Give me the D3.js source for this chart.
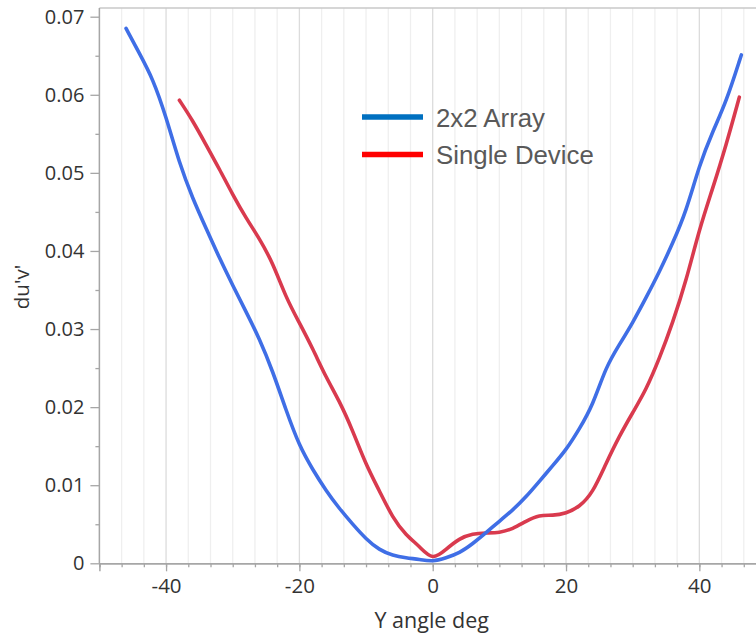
<!DOCTYPE html>
<html><head><meta charset="utf-8">
<script src="https://cdn.jsdelivr.net/npm/d3@7"></script>
<style>body{margin:0;background:#fff;overflow:hidden}svg{display:block}</style>
</head><body><svg id="c" width="756" height="637"></svg>
<script>
const anglesArray = [-46,-44,-42,-40,-38,-36,-34,-32,-30,-28,-26,-24,-22,-20,-18,-16,-14,-12,-10,-8,-6,-4,-2,0,2,4,6,8,10,12,14,16,18,20,22,24,26,28,30,32,34,36,38,40,42,44,46.3];
const arrayValues = [0.0685,0.0653,0.0621,0.0572,0.0512,0.0467,0.0429,0.0391,0.0356,0.0322,0.0288,0.0246,0.0196,0.0150,0.0120,0.0093,0.0070,0.0050,0.0031,0.0017,0.0010,0.0007,0.0005,0.0002,0.0007,0.0013,0.0025,0.0039,0.0054,0.0068,0.0085,0.0105,0.0125,0.0145,0.0172,0.0202,0.0252,0.0280,0.0308,0.0340,0.0373,0.0410,0.0450,0.0510,0.0553,0.0590,0.0651];
const anglesSingle = [-38,-36,-34,-32,-30,-28,-26,-24,-22,-20,-18,-16,-14,-12,-10,-8,-6,-4,-2,0,2,4,6,8,10,12,14,16,18,20,22,24,26,28,30,32,34,36,38,40,42,44,46];
const singleValues = [0.0593,0.0567,0.0536,0.0505,0.0472,0.0442,0.0416,0.0385,0.0340,0.0308,0.0275,0.0238,0.0208,0.0170,0.0126,0.0093,0.0058,0.0036,0.0022,0.0003,0.0018,0.0032,0.0038,0.0039,0.0039,0.0044,0.0054,0.0062,0.0061,0.0064,0.0072,0.0090,0.0128,0.0163,0.0193,0.0222,0.0262,0.0308,0.0361,0.0428,0.0480,0.0535,0.0597];
const xTickValues = [-40,-20,0,20,40];
const xTickLabels = ["-40","-20","0","20","40"];
const yTickValues = [0,0.01,0.02,0.03,0.04,0.05,0.06,0.07];
const yTickLabels = ["0","0.01","0.02","0.03","0.04","0.05","0.06","0.07"];
const seriesNames = ["2x2 Array","Single Device"];

const svg = d3.select("#c");
const x = d3.scaleLinear().domain([-50,50]).range([99.4,766]);
const y = d3.scaleLinear().domain([0,0.07]).range([563.3,16.7]);
const plotTop = 8, plotBottom = 563.3;
const font = "'Open Sans', 'Noto Sans', sans-serif";

// grid
const minor = d3.range(-50, 50.01, 10/3);
svg.append("g").selectAll("line").data(minor).join("line")
  .attr("x1", d => x(d)).attr("x2", d => x(d)).attr("y1", plotTop).attr("y2", plotBottom)
  .attr("stroke", d => Math.abs(Math.round(d) % 20) === 0 && Math.abs(d - Math.round(d)) < 0.01 ? "#dcdcdc" : "#efefef")
  .attr("stroke-width", 1.3);

// top border
svg.append("line").attr("x1", 99.4).attr("x2", 766).attr("y1", plotTop).attr("y2", plotTop)
  .attr("stroke", "#c8c8c8").attr("stroke-width", 1.5);

// x axis
const xMinorAxis = d3.axisBottom(x).tickValues(minor).tickSize(4).tickFormat("");
const gxm = svg.append("g").attr("transform", `translate(0,${plotBottom})`).call(xMinorAxis);
const xAxis = d3.axisBottom(x).tickValues(xTickValues).tickSize(8).tickPadding(7)
  .tickFormat((d,i) => xTickLabels[i]);
const gx = svg.append("g").attr("transform", `translate(0,${plotBottom})`).call(xAxis);
[gxm, gx].forEach(g => {
  g.select(".domain").attr("stroke", "#a6a6a6").attr("stroke-width", 1.5);
  g.selectAll(".tick line").attr("stroke", "#a6a6a6").attr("stroke-width", 1.3);
});
gx.selectAll("text").attr("font-family", font).attr("font-size", 20.5).attr("fill", "#333");

// y axis
const yMinor = d3.range(0.005, 0.07, 0.01);
const yMinorAxis = d3.axisLeft(y).tickValues(yMinor).tickSize(4).tickFormat("");
const gym = svg.append("g").attr("transform", "translate(99.4,0)").call(yMinorAxis);
const yAxis = d3.axisLeft(y).tickValues(yTickValues).tickSize(9).tickPadding(6)
  .tickFormat((d,i) => yTickLabels[i]);
const gy = svg.append("g").attr("transform", "translate(99.4,0)").call(yAxis);
gy.select(".domain").attr("d", `M0,${plotTop}V${plotBottom}`);
gym.select(".domain").remove();
[gym, gy].forEach(g => {
  g.select(".domain").attr("stroke", "#a6a6a6").attr("stroke-width", 1.5);
  g.selectAll(".tick line").attr("stroke", "#a6a6a6").attr("stroke-width", 1.3);
});
gy.selectAll("text").attr("font-family", font).attr("font-size", 20).attr("fill", "#333");

// axis titles
svg.append("text").attr("x", x(0)-1).attr("y", 628).attr("text-anchor", "middle")
  .attr("font-family", font).attr("font-size", 21.5).attr("fill", "#333").text("Y angle deg");
svg.append("text").attr("transform", "translate(29,287) rotate(-90)").attr("text-anchor", "middle")
  .attr("font-family", font).attr("font-size", 20.5).attr("fill", "#333").text("du'v'");

// lines
const line = d3.line().x(d => x(d[0])).y(d => y(d[1])).curve(d3.curveBasis);
svg.append("path").datum(anglesSingle.map((a,i) => [a, singleValues[i]]))
  .attr("d", line).attr("fill", "none").attr("stroke", "#d93a4e").attr("stroke-width", 3.6)
  .attr("stroke-linecap", "round").attr("stroke-linejoin", "round");
svg.append("path").datum(anglesArray.map((a,i) => [a, arrayValues[i]]))
  .attr("d", line).attr("fill", "none").attr("stroke", "#3f6ee6").attr("stroke-width", 3.6)
  .attr("stroke-linecap", "round").attr("stroke-linejoin", "round");

// legend
const legColors = ["#0070c0", "#ff0000"];
const legY = [117, 154.5];
const lg = svg.append("g");
seriesNames.forEach((n,i) => {
  lg.append("line").attr("x1", 362).attr("x2", 423).attr("y1", legY[i]).attr("y2", legY[i])
    .attr("stroke", legColors[i]).attr("stroke-width", 5.5);
  lg.append("text").attr("x", 436).attr("y", legY[i]+9.5)
    .attr("font-family", "'Liberation Sans', Arial, sans-serif").attr("font-size", 25.8)
    .attr("fill", "#595959").text(n);
});
</script></body></html>
